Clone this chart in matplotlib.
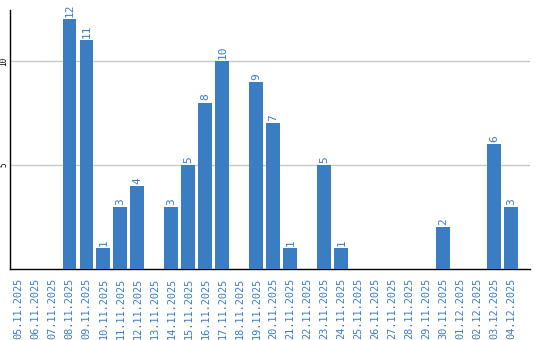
import matplotlib
matplotlib.use("Agg")
import matplotlib.pyplot as plt

dates = ["05.11.2025", "06.11.2025", "07.11.2025", "08.11.2025", "09.11.2025",
         "10.11.2025", "11.11.2025", "12.11.2025", "13.11.2025", "14.11.2025",
         "15.11.2025", "16.11.2025", "17.11.2025", "18.11.2025", "19.11.2025",
         "20.11.2025", "21.11.2025", "22.11.2025", "23.11.2025", "24.11.2025",
         "25.11.2025", "26.11.2025", "27.11.2025", "28.11.2025", "29.11.2025",
         "30.11.2025", "01.12.2025", "02.12.2025", "03.12.2025", "04.12.2025"]
values = [0, 0, 0, 12, 11, 1, 3, 4, 0, 3, 5, 8, 10, 0, 9, 7, 1, 0, 5, 1,
          0, 0, 0, 0, 0, 2, 0, 0, 6, 3]
yticks = [5, 10]

bar_color = "#3a7dc2"
label_color = "#3a7dc2"

fig = plt.figure(figsize=(5.4, 3.4), dpi=100)
ax = fig.add_axes([10/540, 1 - 269/340, 520/540, 259/340])

x = list(range(len(dates)))
ax.bar(x, values, width=0.82, color=bar_color, zorder=3)
for xi, v in zip(x, values):
    if v > 0:
        ax.text(xi, v + 0.1, str(v), rotation=90, ha="center", va="bottom",
                color=label_color, fontsize=8, family="DejaVu Sans Mono")

ax.set_xlim(-0.5, 30.1)
ax.set_ylim(0, 12.45)
ax.set_xticks(x)
ax.set_xticklabels(dates, rotation=90, color=label_color, fontsize=7.4,
                   family="DejaVu Sans Mono")
ax.set_yticks(yticks)
ax.set_yticklabels([str(t) for t in yticks], rotation=90, fontsize=5.5,
                   family="DejaVu Sans Mono", va="center")
ax.tick_params(axis="both", length=0)
ax.tick_params(axis="x", pad=6)
ax.tick_params(axis="y", pad=1)
ax.grid(axis="y", color="#c8c8c8", linewidth=1, zorder=0)
for s in ["top", "right"]:
    ax.spines[s].set_visible(False)
ax.spines["left"].set_linewidth(1)
ax.spines["bottom"].set_linewidth(1)

fig.savefig("out.png", dpi=100)
